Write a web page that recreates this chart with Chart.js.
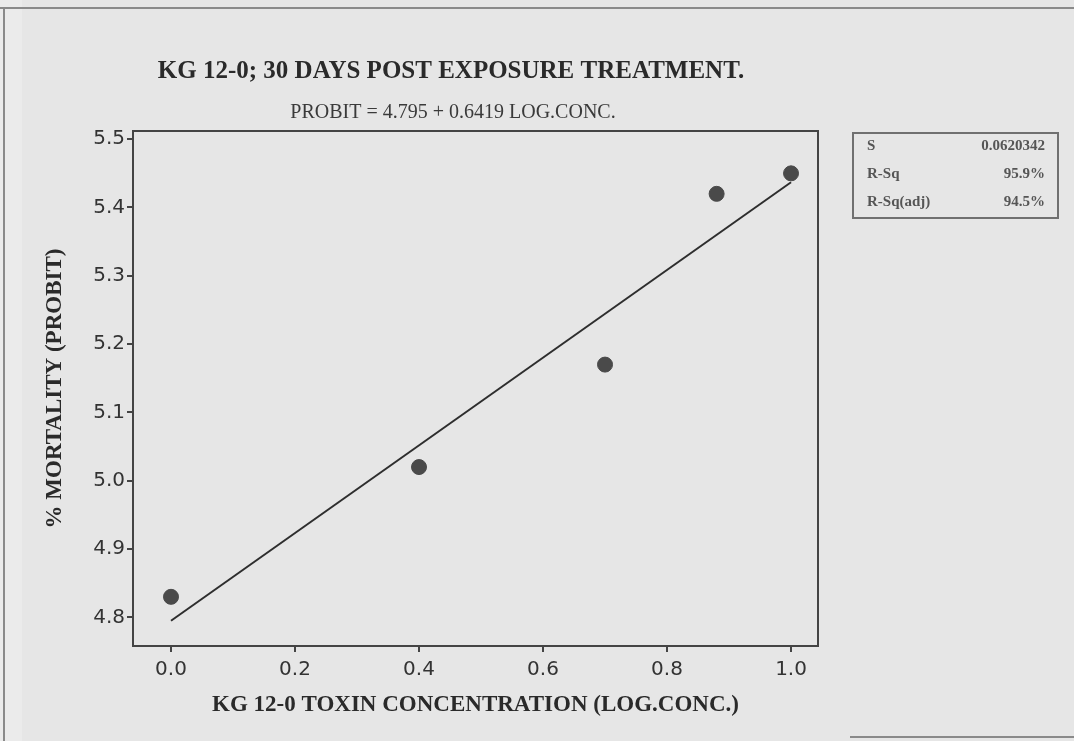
<!DOCTYPE html>
<html>
<head>
<meta charset="utf-8">
<title>KG 12-0 probit regression</title>
<script src="https://cdn.jsdelivr.net/npm/chart.js@4.4.1/dist/chart.umd.min.js"></script>
<style>
  html, body { margin: 0; padding: 0; background: #e6e6e6; }
  #wrap { position: relative; width: 1074px; height: 741px; }
  canvas { display: block; }
</style>
</head>
<body>
<div id="wrap"><canvas id="chart" width="1074" height="741"></canvas></div>
<script>
// Observed probit mortality at each log concentration
const logConc = [0.0, 0.4, 0.7, 0.88, 1.0];
const probit = [4.83, 5.02, 5.17, 5.42, 5.45];

// Fitted regression: PROBIT = intercept + slope * LOG.CONC.
const intercept = 4.795;
const slope = 0.6419;
const fitRange = [0.0, 1.0];

// Fit statistics shown in the side box
const statLabels = ['S', 'R-Sq', 'R-Sq(adj)'];
const statValues = ['0.0620342', '95.9%', '94.5%'];

// Axis ticks
const xTicks = [0.0, 0.2, 0.4, 0.6, 0.8, 1.0];
const yTicks = [4.8, 4.9, 5.0, 5.1, 5.2, 5.3, 5.4, 5.5];

const titleText = 'KG 12-0; 30 DAYS POST EXPOSURE TREATMENT.';
const subtitleText = 'PROBIT = ' + intercept + ' + ' + slope + ' LOG.CONC.';

const fitPoints = fitRange.map(x => ({ x: x, y: intercept + slope * x }));
const obsPoints = logConc.map((x, i) => ({ x: x, y: probit[i] }));

const INK = '#333333';
const SERIF = '"Liberation Serif", "Times New Roman", serif';

// Page background, frame edges, plot frame, headings and stats box
const decor = {
  id: 'decor',
  beforeDraw(chart) {
    const { ctx, width, height } = chart;
    ctx.save();
    ctx.fillStyle = '#e6e6e6';
    ctx.fillRect(0, 0, width, height);
    ctx.fillStyle = '#ebebeb';
    ctx.fillRect(0, 0, 22, height);
    ctx.strokeStyle = '#8a8a8a';
    ctx.lineWidth = 2;
    ctx.beginPath();
    ctx.moveTo(0, 8); ctx.lineTo(width, 8);
    ctx.moveTo(4, 8); ctx.lineTo(4, height);
    ctx.moveTo(850, 737); ctx.lineTo(width, 737);
    ctx.stroke();
    ctx.restore();
  },
  afterDatasetsDraw(chart) {
    const { ctx, chartArea: a } = chart;
    ctx.save();
    ctx.strokeStyle = '#444444';
    ctx.lineWidth = 2;
    ctx.strokeRect(a.left, a.top, a.right - a.left, a.bottom - a.top);

    ctx.fillStyle = '#2a2a2a';
    ctx.textAlign = 'center';
    ctx.textBaseline = 'middle';
    ctx.font = 'bold 25px ' + SERIF;
    ctx.fillText(titleText, 451, 72);
    ctx.font = '20px ' + SERIF;
    ctx.fillStyle = '#3a3a3a';
    ctx.fillText(subtitleText, 453, 113);

    // stats box
    const bx = 853, by = 133, bw = 205, bh = 85;
    ctx.strokeStyle = '#707070';
    ctx.lineWidth = 2;
    ctx.strokeRect(bx, by, bw, bh);
    ctx.font = 'bold 15px ' + SERIF;
    ctx.fillStyle = '#555555';
    statLabels.forEach((lab, i) => {
      const y = by + 13 + i * 28;
      ctx.textAlign = 'left';
      ctx.fillText(lab, 867, y);
      ctx.textAlign = 'right';
      ctx.fillText(statValues[i], 1045, y);
    });
    ctx.restore();
  }
};

new Chart(document.getElementById('chart'), {
  type: 'scatter',
  data: {
    datasets: [
      {
        label: 'Observed',
        data: obsPoints,
        backgroundColor: '#4a4a4a',
        borderColor: '#4a4a4a',
        pointRadius: 7.5,
        pointHoverRadius: 7.5,
        order: 1
      },
      {
        label: 'Fitted',
        type: 'line',
        data: fitPoints,
        borderColor: '#2e2e2e',
        borderWidth: 2,
        pointRadius: 0,
        fill: false,
        order: 2
      }
    ]
  },
  options: {
    responsive: false,
    animation: false,
    events: [],
    layout: { padding: { left: 0, top: 131, right: 256, bottom: 0 } },
    plugins: {
      legend: { display: false },
      tooltip: { enabled: false },
      title: { display: false }
    },
    scales: {
      x: {
        type: 'linear',
        min: -0.0613,
        max: 1.0435,
        afterBuildTicks(scale) { scale.ticks = xTicks.map(v => ({ value: v })); },
        afterFit(scale) { scale.height = 95; },
        grid: { display: true, drawOnChartArea: false, drawTicks: true, tickLength: 6, color: '#444444', lineWidth: 2 },
        border: { display: false },
        ticks: {
          color: INK, padding: 6,
          font: { family: '"DejaVu Sans", Verdana, sans-serif', size: 20 },
          callback: v => v.toFixed(1)
        },
        title: {
          display: true,
          text: 'KG 12-0 TOXIN CONCENTRATION (LOG.CONC.)',
          color: '#2a2a2a',
          font: { family: SERIF, size: 23, weight: 'bold' },
          padding: { top: 0, bottom: 22 }
        }
      },
      y: {
        type: 'linear',
        min: 4.758,
        max: 5.512,
        afterBuildTicks(scale) { scale.ticks = yTicks.map(v => ({ value: v })); },
        afterFit(scale) { scale.width = 133; },
        grid: { display: true, drawOnChartArea: false, drawTicks: true, tickLength: 6, color: '#444444', lineWidth: 2 },
        border: { display: false },
        ticks: {
          color: INK, padding: 2,
          font: { family: '"DejaVu Sans", Verdana, sans-serif', size: 20 },
          callback: v => v.toFixed(1)
        },
        title: {
          display: true,
          text: '% MORTALITY (PROBIT)',
          color: '#2a2a2a',
          font: { family: SERIF, size: 23, weight: 'bold' },
          padding: { top: 41, bottom: 0 }
        }
      }
    }
  },
  plugins: [decor]
});
</script>
</body>
</html>
